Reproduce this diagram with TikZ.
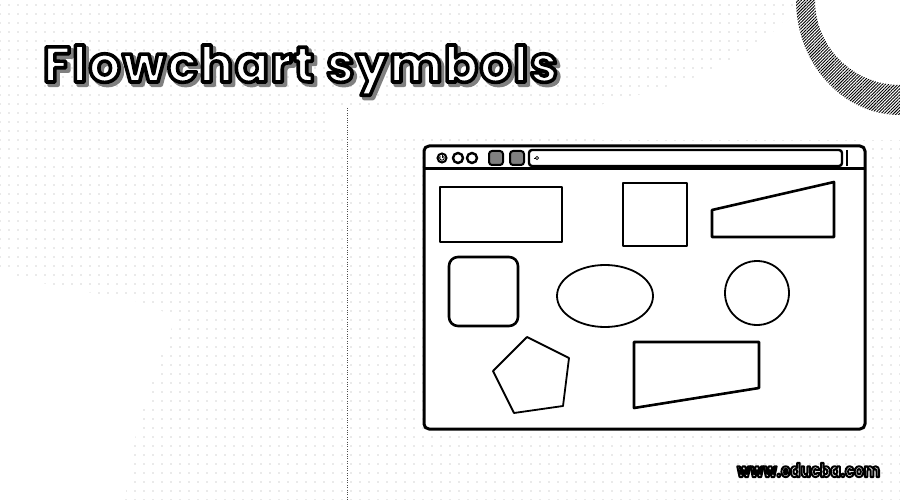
\documentclass[tikz,border=0pt]{standalone}
\usepackage{fontspec}
\setmainfont{Poppins}
\usetikzlibrary{patterns.meta,calc}
\newcommand\outlinetext[1]{\special{pdf:literal direct 2 Tr #1 w 1 j 0 G}}
\newcommand\thicktext[1]{\special{pdf:literal direct 2 Tr #1 w 1 j}}
\begin{document}
\begin{tikzpicture}[x=1pt,y=-1pt,
  bgdots/.style={pattern={Dots[distance=9pt,radius=0.45pt]},pattern color=black},
  thick shape/.style={draw=black,line width=2.6pt,line join=round},
  thin shape/.style={draw=black,line width=1.8pt,line join=round},
  frame/.style={draw=black,line width=3pt,line join=round},
  titletxt/.style={anchor=base west,inner sep=0pt,font=\fontsize{50}{60}\selectfont\bfseries\addfontfeature{LetterSpace=3.5}},
  wmtxt/.style={anchor=base west,inner sep=0pt,font=\fontsize{19}{22}\selectfont\bfseries\addfontfeature{FakeStretch=0.8}}]
\useasboundingbox (0,0) rectangle (900,500);
\fill[white] (0,0) rectangle (900,500);
% background dot texture
\fill[bgdots] (0,0) rectangle (900,500);
\fill[white] (0,270) .. controls (80,300) and (140,290) .. (175,320)
  .. controls (150,380) and (130,440) .. (125,500) -- (0,500) -- cycle;
\fill[white] (330,105) rectangle (900,135);
\fill[white] (600,105) .. controls (700,80) and (760,60) .. (800,0) -- (900,0) -- (900,140) -- (600,140) -- cycle;
% vertical dotted divider
\draw[black!70,line width=0.8pt,dash pattern=on 0.8pt off 1.6pt] (347,108) -- (347,500);
% top right hatched arc band
\fill[pattern={Lines[angle=45,distance=2.2pt,line width=0.9pt]},pattern color=black]
  (796,0) arc[start angle=180,end angle=270,x radius=104,y radius=-115]
  -- (900,85) arc[start angle=270,end angle=180,x radius=85,y radius=-85] -- cycle;
% title: shadow, then white letters with black outline
\node[titletxt,text=black!50] (tshadow) at (46,85) {\thicktext{4}Flowchart symbols};
\node[titletxt,text=white] (title) at (43,82) {\outlinetext{3.6}Flowchart symbols};
% browser window
\draw[frame,fill=white,rounded corners=5pt] (424,146) rectangle (865,429);
\draw[frame] (424,169) -- (865,169);
% toolbar icons
\draw[black,line width=2pt,fill=white] (442,158) circle[radius=4.5];
\draw[black,line width=0.9pt] (442,155.5) -- (442,158);
\draw[black,line width=0.9pt] (440.3,156.3) arc[start angle=225,end angle=-45,radius=2.3];
\draw[black,line width=2.4pt,fill=white] (458,158) circle[radius=5];
\draw[black,line width=2.4pt,fill=white] (472,158) circle[radius=5];
\draw[black,line width=2pt,fill=black!50,rounded corners=3pt] (489,151) rectangle (503,165);
\draw[black,line width=2pt,fill=black!50,rounded corners=3pt] (510,151) rectangle (524,165);
\draw[black,line width=2.4pt,fill=white,rounded corners=3pt] (529,150) rectangle (842,166);
\draw[black,line width=0.8pt] (537,158) circle[radius=1.6];
\draw[black,line width=0.8pt] (535.5,158) -- (534,158);
\draw[black,line width=1.5pt] (847,150) -- (847,166);
% shapes
\draw[thick shape] (440,187) rectangle (562,242);
\draw[thick shape] (623,183) rectangle (687,246);
\draw[thick shape] (712,210) -- (834,182) -- (834,237) -- (712,237) -- cycle;
\draw[thick shape,rounded corners=9pt] (449,257) rectangle (518,326);
\draw[thin shape] (605,296) ellipse[x radius=48,y radius=31];
\draw[thin shape] (757,293) circle[radius=32];
\draw[thin shape] (527,337) -- (569,358) -- (563,406) -- (514,413) -- (493,371) -- cycle;
\draw[thick shape] (634,342) -- (759,342) -- (759,388) -- (634,408) -- cycle;
% watermark
\node[wmtxt,text=white] (wm) at (737,477) {\outlinetext{2}www.educba.com};
\end{tikzpicture}
\end{document}
